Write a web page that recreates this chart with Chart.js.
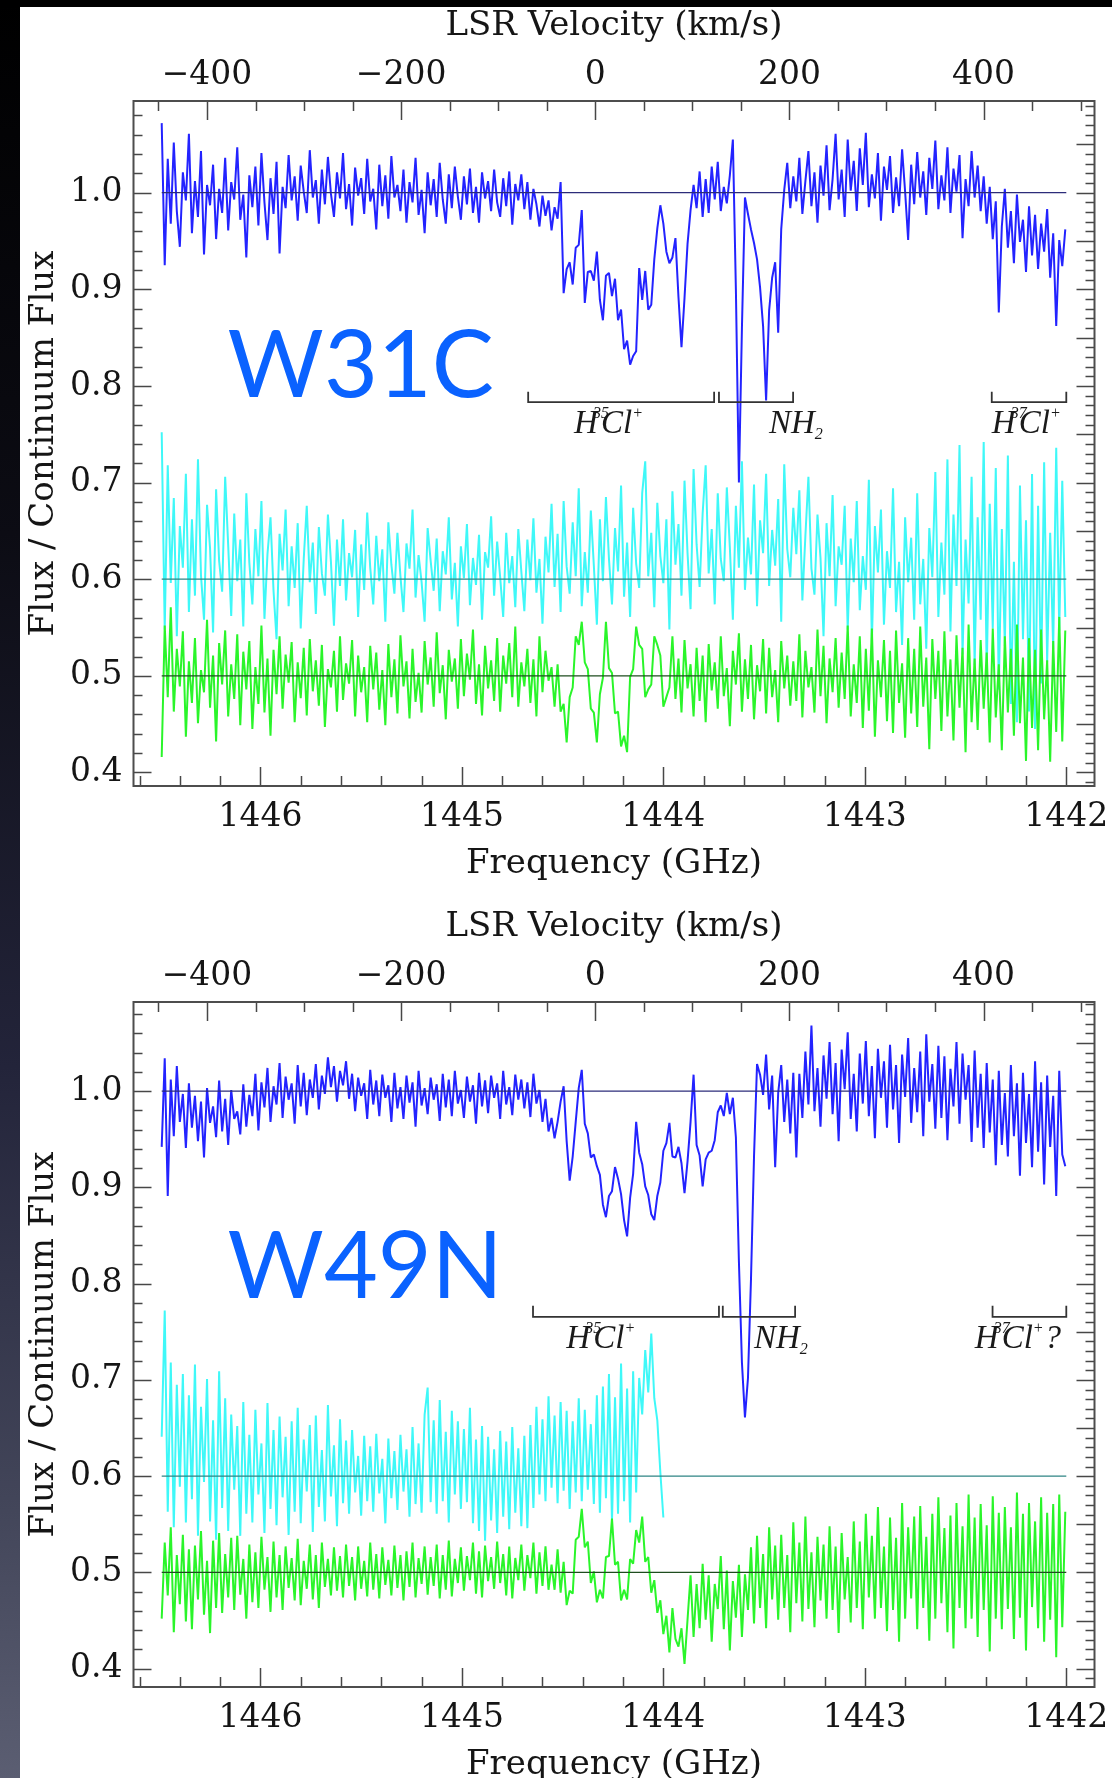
<!DOCTYPE html>
<html>
<head>
<meta charset="utf-8">
<script src="https://cdn.jsdelivr.net/npm/chart.js@4.4.1/dist/chart.umd.min.js"></script>
<style>
  html, body { margin: 0; padding: 0; background: #fff; width: 1112px; height: 1778px; overflow: hidden; position: relative; }
  canvas { position: absolute; left: 0; }
  #p1 { top: 0; }
  #p2 { top: 901px; }
  #strip { position: absolute; left: 0; top: 0; width: 20px; height: 1778px;
           background: linear-gradient(#000 0%, #0c0c14 30%, #23243a 60%, #43465a 85%, #5b5e72 100%); }
  #band { position: absolute; left: 0; top: 0; width: 1112px; height: 7px; background: #000; }
</style>
</head>
<body>
<canvas id="p1" width="1112" height="890"></canvas>
<canvas id="p2" width="1112" height="890"></canvas>
<div id="strip"></div>
<div id="band"></div>
<script>
// channel grid of the spectra (GHz)
const freqStart = 1446.49;
const chanWidth = 0.015;
const freqEnd = 1442.0;
// frequency of 0 km/s on the LSR velocity axis
const restFreq = 1444.338;

const freqTicks = [1442, 1443, 1444, 1445, 1446];
const velTicks = [-400, -200, 0, 200, 400];
const fluxTicks = [0.4, 0.5, 0.6, 0.7, 0.8, 0.9, 1.0];

// W31C
const w31cBlue = [
  1.072,0.925,1.035,0.968,1.052,0.981,0.944,1.021,0.992,1.061,
  0.958,1.012,0.975,1.043,0.936,1.008,0.987,1.029,0.952,1.004,
  0.979,1.036,0.961,1.011,0.993,1.047,0.972,0.998,0.933,1.018,
  0.985,1.027,0.966,1.041,0.99,0.951,1.015,0.978,1.032,0.937,
  1.006,0.984,1.039,0.992,1.017,0.971,1.028,1.001,0.979,1.044,
  0.995,1.013,0.968,1.024,0.988,1.037,0.999,0.975,1.021,0.994,
  1.041,0.983,1.009,0.966,1.026,0.997,1.015,0.978,1.035,0.991,
  1.004,0.962,1.029,0.986,1.018,0.973,1.038,0.995,1.008,0.981,
  1.024,0.969,1.011,0.99,1.036,0.977,1.003,0.958,1.021,0.987,
  1.014,0.975,1.031,0.993,0.968,1.019,0.984,1.027,0.996,0.972,
  1.017,0.988,1.025,0.979,1.006,0.969,1.021,0.994,1.012,0.981,
  1.024,0.99,0.975,1.015,0.986,1.022,0.967,1.009,0.992,1.019,
  0.983,1.011,0.972,1.004,0.988,0.965,0.997,0.976,0.992,0.961,
  0.985,0.973,1.011,0.896,0.921,0.928,0.905,0.943,0.946,0.982,
  0.886,0.918,0.919,0.909,0.939,0.889,0.868,0.914,0.917,0.893,
  0.911,0.868,0.879,0.838,0.847,0.822,0.831,0.836,0.922,0.889,
  0.919,0.879,0.884,0.931,0.963,0.987,0.968,0.939,0.927,0.933,
  0.953,0.892,0.84,0.891,0.947,0.982,1.008,0.984,1.022,0.975,
  1.014,0.979,1.027,0.993,1.032,0.981,1.006,0.989,1.018,1.055,
  0.9,0.70,0.86,0.995,0.978,0.962,0.948,0.931,0.902,0.862,
  0.785,0.878,0.912,0.928,0.855,0.962,1.003,1.031,0.984,1.017,
  0.991,1.036,0.978,1.012,1.043,0.986,1.021,0.969,1.028,0.997,
  1.049,0.982,1.014,1.061,0.993,1.024,0.975,1.055,1.002,1.033,
  0.981,1.046,1.008,1.062,0.985,1.019,0.994,1.041,0.971,1.027,
  1.003,1.038,0.979,1.016,0.986,1.045,1.001,0.951,1.029,0.988,
  1.042,0.995,1.022,0.977,1.036,1.004,1.054,0.983,1.018,0.992,
  1.047,0.979,1.025,1.001,1.039,0.953,1.014,0.986,1.043,0.995,
  1.028,0.981,1.017,0.968,1.006,0.952,0.991,0.876,0.965,1.004,
  0.943,0.981,0.927,0.998,0.949,0.972,0.918,0.986,0.935,0.977,
  0.921,0.968,0.939,0.983,0.912,0.958,0.862,0.951,0.924,0.962
];
const w31cCyan = [
  0.752,0.548,0.718,0.596,0.684,0.541,0.655,0.612,0.709,0.566,
  0.662,0.583,0.724,0.604,0.558,0.677,0.632,0.545,0.693,0.619,
  0.587,0.706,0.635,0.562,0.668,0.598,0.641,0.551,0.689,0.617,
  0.574,0.652,0.603,0.681,0.559,0.626,0.664,0.588,0.538,0.647,
  0.609,0.672,0.572,0.634,0.591,0.658,0.549,0.621,0.676,0.597,
  0.638,0.564,0.654,0.606,0.583,0.667,0.618,0.552,0.641,0.593,
  0.662,0.578,0.627,0.602,0.651,0.561,0.636,0.589,0.669,0.612,
  0.574,0.645,0.598,0.631,0.556,0.659,0.615,0.585,0.648,0.603,
  0.566,0.637,0.611,0.672,0.581,0.625,0.597,0.556,0.653,0.619,
  0.588,0.642,0.567,0.629,0.605,0.664,0.579,0.617,0.551,0.634,
  0.601,0.657,0.573,0.622,0.594,0.646,0.558,0.628,0.612,0.665,
  0.583,0.639,0.602,0.561,0.648,0.596,0.624,0.571,0.652,0.608,
  0.567,0.641,0.599,0.663,0.586,0.621,0.554,0.644,0.607,0.678,
  0.592,0.647,0.566,0.681,0.613,0.585,0.659,0.603,0.694,0.572,
  0.628,0.586,0.671,0.614,0.553,0.662,0.598,0.685,0.621,0.574,
  0.653,0.608,0.697,0.582,0.638,0.561,0.674,0.616,0.591,0.689,
  0.722,0.603,0.648,0.571,0.679,0.624,0.596,0.662,0.548,0.691,
  0.615,0.657,0.583,0.702,0.627,0.569,0.714,0.636,0.592,0.668,
  0.718,0.606,0.652,0.574,0.689,0.621,0.598,0.695,0.633,0.558,
  0.676,0.612,0.722,0.589,0.643,0.605,0.698,0.572,0.661,0.627,
  0.709,0.593,0.651,0.614,0.683,0.556,0.719,0.631,0.602,0.674,
  0.626,0.692,0.578,0.645,0.706,0.611,0.584,0.667,0.622,0.541,
  0.658,0.603,0.687,0.572,0.634,0.615,0.676,0.548,0.642,0.597,
  0.681,0.568,0.624,0.589,0.703,0.535,0.655,0.607,0.672,0.553,
  0.629,0.591,0.694,0.566,0.618,0.532,0.664,0.597,0.643,0.558,
  0.689,0.574,0.621,0.528,0.653,0.602,0.711,0.561,0.638,0.584,
  0.724,0.546,0.667,0.593,0.739,0.522,0.641,0.575,0.706,0.511,
  0.664,0.558,0.742,0.503,0.678,0.549,0.715,0.486,0.652,0.531,
  0.728,0.471,0.618,0.452,0.697,0.538,0.661,0.463,0.709,0.445,
  0.676,0.492,0.721,0.514,0.648,0.528,0.736,0.547,0.702,0.561
];
const w31cGreen = [
  0.416,0.552,0.478,0.571,0.463,0.528,0.489,0.546,0.437,0.515,
  0.472,0.539,0.451,0.506,0.483,0.558,0.467,0.521,0.432,0.534,
  0.491,0.547,0.458,0.512,0.476,0.543,0.449,0.525,0.486,0.536,
  0.445,0.509,0.471,0.552,0.462,0.518,0.438,0.527,0.481,0.541,
  0.466,0.522,0.493,0.535,0.452,0.514,0.477,0.529,0.459,0.538,
  0.484,0.516,0.469,0.532,0.447,0.507,0.488,0.526,0.463,0.541,
  0.475,0.513,0.492,0.537,0.458,0.521,0.483,0.509,0.452,0.531,
  0.486,0.524,0.465,0.506,0.449,0.533,0.478,0.517,0.461,0.542,
  0.489,0.515,0.456,0.528,0.473,0.503,0.462,0.536,0.491,0.519,
  0.468,0.545,0.482,0.511,0.455,0.527,0.494,0.518,0.466,0.538,
  0.479,0.523,0.496,0.548,0.471,0.512,0.459,0.531,0.487,0.516,
  0.474,0.539,0.463,0.521,0.492,0.534,0.478,0.551,0.468,0.514,
  0.489,0.528,0.472,0.517,0.458,0.541,0.483,0.526,0.495,0.509,
  0.468,0.512,0.463,0.471,0.431,0.478,0.488,0.541,0.532,0.556,
  0.514,0.507,0.466,0.462,0.431,0.481,0.498,0.556,0.508,0.503,
  0.461,0.463,0.427,0.438,0.421,0.499,0.507,0.551,0.532,0.528,
  0.478,0.486,0.491,0.541,0.532,0.521,0.468,0.478,0.488,0.541,
  0.476,0.518,0.462,0.537,0.487,0.512,0.458,0.529,0.474,0.521,
  0.452,0.533,0.485,0.514,0.466,0.541,0.479,0.508,0.448,0.526,
  0.491,0.544,0.463,0.517,0.476,0.532,0.455,0.511,0.484,0.538,
  0.461,0.529,0.478,0.506,0.452,0.536,0.487,0.521,0.469,0.515,
  0.474,0.543,0.457,0.526,0.488,0.509,0.462,0.548,0.479,0.531,
  0.451,0.518,0.483,0.539,0.467,0.524,0.476,0.552,0.458,0.512,
  0.472,0.541,0.446,0.528,0.464,0.549,0.437,0.516,0.478,0.537,
  0.453,0.526,0.441,0.547,0.472,0.513,0.436,0.539,0.461,0.528,
  0.447,0.551,0.468,0.519,0.424,0.538,0.476,0.526,0.443,0.546,
  0.458,0.517,0.433,0.542,0.467,0.529,0.421,0.553,0.452,0.518,
  0.444,0.537,0.466,0.524,0.431,0.549,0.457,0.512,0.423,0.541,
  0.462,0.528,0.438,0.553,0.451,0.519,0.412,0.539,0.446,0.527,
  0.423,0.548,0.455,0.516,0.411,0.536,0.442,0.561,0.432,0.547
];

// W49N
const w49nBlue = [
  0.942,1.034,0.891,1.012,0.953,1.026,0.968,0.997,0.941,1.008,
  0.962,0.995,0.948,0.989,0.931,1.003,0.967,0.984,0.952,1.011,
  0.958,0.992,0.944,1.001,0.971,0.979,0.955,1.007,0.963,0.996,
  0.974,1.018,0.959,1.009,0.983,1.024,0.968,1.005,0.986,1.029,
  0.972,1.015,0.991,1.008,0.966,1.027,0.984,1.019,0.975,1.012,
  0.993,1.028,0.981,1.016,0.997,1.035,1.004,1.026,0.989,1.021,
  1.006,1.031,0.992,1.018,0.979,1.014,0.995,1.008,0.971,1.022,
  0.986,1.011,0.974,1.017,0.993,1.006,0.968,1.019,0.982,1.004,
  0.971,1.016,0.988,1.009,0.963,1.021,0.985,1.003,0.976,1.014,
  0.991,1.007,0.969,1.018,0.983,1.012,0.974,1.021,0.987,1.001,
  0.972,1.015,0.989,1.006,0.966,1.019,0.984,1.011,0.977,1.016,
  0.993,1.008,0.971,1.021,0.986,1.004,0.975,1.017,0.991,1.012,
  0.982,1.009,0.973,1.018,0.987,1.001,0.968,0.992,0.958,0.972,
  0.951,0.968,0.989,1.005,0.948,0.907,0.932,0.968,1.003,1.022,
  0.966,0.956,0.931,0.934,0.922,0.913,0.882,0.869,0.891,0.896,
  0.921,0.909,0.893,0.866,0.849,0.889,0.914,0.968,0.936,0.924,
  0.901,0.892,0.872,0.866,0.891,0.905,0.938,0.946,0.967,0.932,
  0.931,0.942,0.925,0.894,0.927,0.968,1.017,0.944,0.933,0.901,
  0.929,0.936,0.938,0.949,0.978,0.985,0.974,0.998,0.976,0.993,
  0.952,0.823,0.718,0.661,0.702,0.805,0.932,1.028,1.017,0.996,
  1.038,0.981,1.016,0.921,0.998,1.027,0.968,1.012,0.956,1.019,
  0.931,1.018,0.972,1.041,0.986,1.068,0.979,1.024,0.963,1.037,
  0.992,1.051,0.976,1.029,0.948,1.043,1.002,1.061,0.971,1.018,
  0.958,1.039,0.987,1.052,0.974,1.026,0.951,1.044,0.993,1.031,
  0.962,1.048,0.981,1.027,0.946,1.038,0.994,1.055,0.967,1.024,
  0.978,1.041,0.953,1.059,0.989,1.028,0.961,1.047,0.972,1.036,
  0.949,1.023,0.984,1.051,0.966,1.039,0.991,1.027,0.947,1.042,
  0.962,1.018,0.941,1.029,0.957,1.012,0.923,1.021,0.944,0.998,
  0.932,1.027,0.953,1.008,0.912,1.019,0.946,0.997,0.921,1.031,
  0.937,1.009,0.903,1.016,0.942,0.995,0.891,1.021,0.934,0.922
];
const w49nCyan = [
  0.641,0.772,0.563,0.718,0.547,0.695,0.589,0.706,0.552,0.684,
  0.576,0.716,0.538,0.672,0.594,0.701,0.553,0.658,0.534,0.709,
  0.567,0.681,0.543,0.664,0.586,0.652,0.538,0.677,0.561,0.643,
  0.552,0.669,0.581,0.634,0.541,0.676,0.566,0.648,0.549,0.662,
  0.578,0.641,0.539,0.657,0.563,0.671,0.551,0.638,0.584,0.653,
  0.542,0.663,0.568,0.627,0.553,0.674,0.579,0.632,0.548,0.659,
  0.572,0.637,0.561,0.648,0.583,0.621,0.559,0.642,0.574,0.631,
  0.563,0.644,0.582,0.618,0.551,0.639,0.577,0.626,0.565,0.643,
  0.584,0.628,0.558,0.651,0.571,0.634,0.562,0.664,0.692,0.573,
  0.658,0.561,0.679,0.574,0.646,0.552,0.668,0.581,0.657,0.566,
  0.649,0.573,0.671,0.551,0.638,0.543,0.652,0.533,0.641,0.554,
  0.628,0.541,0.647,0.558,0.636,0.545,0.651,0.562,0.629,0.548,
  0.642,0.546,0.653,0.567,0.672,0.581,0.659,0.574,0.683,0.588,
  0.663,0.572,0.677,0.585,0.668,0.566,0.657,0.583,0.681,0.574,
  0.669,0.586,0.654,0.571,0.684,0.562,0.693,0.577,0.706,0.553,
  0.682,0.561,0.717,0.574,0.691,0.552,0.709,0.583,0.702,0.664,
  0.731,0.687,0.748,0.681,0.658,0.604,0.557
];
const w49nGreen = [
  0.452,0.531,0.476,0.547,0.438,0.518,0.467,0.539,0.449,0.524,
  0.441,0.528,0.472,0.543,0.456,0.512,0.437,0.533,0.463,0.541,
  0.458,0.519,0.474,0.536,0.461,0.538,0.477,0.514,0.452,0.529,
  0.469,0.521,0.463,0.537,0.482,0.516,0.459,0.532,0.474,0.518,
  0.461,0.527,0.484,0.515,0.471,0.535,0.466,0.512,0.483,0.529,
  0.472,0.518,0.463,0.531,0.485,0.514,0.476,0.526,0.481,0.517,
  0.474,0.529,0.486,0.516,0.471,0.527,0.483,0.512,0.475,0.531,
  0.482,0.519,0.473,0.526,0.487,0.513,0.476,0.528,0.484,0.518,
  0.471,0.522,0.485,0.531,0.474,0.515,0.488,0.527,0.477,0.516,
  0.486,0.529,0.473,0.518,0.482,0.533,0.475,0.514,0.489,0.526,
  0.481,0.517,0.492,0.531,0.478,0.522,0.474,0.528,0.491,0.516,
  0.483,0.532,0.489,0.519,0.476,0.527,0.473,0.515,0.492,0.529,
  0.481,0.518,0.494,0.531,0.478,0.521,0.486,0.527,0.482,0.508,
  0.482,0.524,0.479,0.511,0.466,0.481,0.478,0.534,0.537,0.566,
  0.526,0.532,0.489,0.501,0.469,0.482,0.473,0.516,0.517,0.556,
  0.508,0.511,0.471,0.482,0.472,0.514,0.509,0.544,0.531,0.558,
  0.511,0.516,0.479,0.492,0.458,0.471,0.436,0.455,0.417,0.463,
  0.431,0.423,0.442,0.405,0.451,0.497,0.433,0.488,0.442,0.509,
  0.451,0.497,0.428,0.488,0.462,0.517,0.441,0.502,0.419,0.491,
  0.453,0.508,0.433,0.498,0.461,0.526,0.447,0.538,0.463,0.519,
  0.442,0.547,0.472,0.528,0.451,0.539,0.463,0.518,0.438,0.552,
  0.468,0.531,0.449,0.558,0.462,0.521,0.443,0.537,0.471,0.529,
  0.452,0.548,0.461,0.527,0.437,0.541,0.472,0.516,0.448,0.553,
  0.463,0.532,0.441,0.561,0.474,0.538,0.452,0.568,0.463,0.527,
  0.439,0.557,0.461,0.536,0.428,0.572,0.452,0.547,0.473,0.558,
  0.441,0.569,0.463,0.537,0.429,0.561,0.452,0.578,0.468,0.546,
  0.438,0.559,0.421,0.572,0.463,0.548,0.442,0.581,0.452,0.557,
  0.433,0.571,0.461,0.549,0.418,0.579,0.452,0.562,0.441,0.568,
  0.462,0.547,0.431,0.583,0.453,0.561,0.419,0.572,0.464,0.553,
  0.442,0.578,0.428,0.562,0.451,0.571,0.412,0.581,0.443,0.563
];

// line identifications: [from GHz, to GHz]
const w31cBrackets = [[1444.671, 1443.748], [1443.724, 1443.356], [1442.370, 1442.0]];
const w49nBrackets = [[1444.647, 1443.724], [1443.705, 1443.346], [1442.366, 1442.0]];

const serif = '"DejaVu Serif", serif';
const ink = '#151515';

function toPoints(vals) {
  return vals.map((v, i) => ({ x: freqStart - i * chanWidth, y: v }));
}

function spectrum(vals, color, order) {
  return { data: toPoints(vals), borderColor: color, borderWidth: 2, borderJoinStyle: 'bevel',
           pointRadius: 0, tension: 0, order: order, xAxisID: 'x', yAxisID: 'y' };
}

function baseline(y, color) {
  return { data: [{ x: freqStart, y: y }, { x: freqEnd, y: y }], borderColor: color,
           borderWidth: 1.3, pointRadius: 0, order: 0, xAxisID: 'x', yAxisID: 'y' };
}

function bracket(pair, base, top) {
  return { data: [{ x: pair[0], y: top }, { x: pair[0], y: base }, { x: pair[1], y: base }, { x: pair[1], y: top }],
           borderColor: '#333', borderWidth: 1.8, pointRadius: 0, order: 0, xAxisID: 'x', yAxisID: 'y' };
}

function frameTicks(ctx, scale, side, a, step, every, major, minor) {
  const lo = Math.min(scale.min, scale.max), hi = Math.max(scale.min, scale.max);
  for (let k = Math.ceil(lo / step - 1e-6); k <= Math.floor(hi / step + 1e-6); k++) {
    const p = Math.round(scale.getPixelForValue(k * step)) + 0.5;
    const len = k % every === 0 ? major : minor;
    ctx.beginPath();
    if (side === 'bottom') { ctx.moveTo(p, a.bottom); ctx.lineTo(p, a.bottom - len); }
    else if (side === 'top') { ctx.moveTo(p, a.top); ctx.lineTo(p, a.top + len); }
    else if (side === 'left') { ctx.moveTo(a.left, p); ctx.lineTo(a.left + len, p); }
    else { ctx.moveTo(a.right, p); ctx.lineTo(a.right - len, p); }
    ctx.stroke();
  }
}

function chem(ctx, x, y, parts) {
  let cx = x;
  for (const p of parts) {
    const small = p.k === 'sup' || p.k === 'sub';
    ctx.font = 'italic ' + (small ? 16 : 33) + 'px "Liberation Serif", serif';
    const px = p.x !== undefined ? x + p.x : cx;
    const py = y + (p.k === 'sup' ? -15 : p.k === 'sub' ? 6 : 0);
    ctx.fillText(p.t, px, py);
    cx = px + ctx.measureText(p.t).width + (small ? 1 : 0);
  }
}

const deco = {
  id: 'deco',
  afterDatasetsDraw(chart, args, opts) {
    const { ctx, chartArea: a, scales } = chart;
    ctx.save();
    ctx.strokeStyle = '#474747';
    ctx.lineWidth = 1.5;
    frameTicks(ctx, scales.x, 'bottom', a, 0.2, 5, 19, 10);
    frameTicks(ctx, scales.x2, 'top', a, 50, 4, 19, 10);
    frameTicks(ctx, scales.y, 'left', a, 0.02, 5, 18, 9);
    frameTicks(ctx, scales.y, 'right', a, 0.01, 5, 18, 9);
    ctx.lineWidth = 2;
    ctx.strokeStyle = '#4d4d4d';
    ctx.strokeRect(a.left, a.top, a.right - a.left, a.bottom - a.top);

    ctx.fillStyle = '#1a1a1a';
    ctx.textBaseline = 'alphabetic';
    ctx.textAlign = 'left';
    for (const lb of opts.labels) {
      chem(ctx, scales.x.getPixelForValue(lb.f), scales.y.getPixelForValue(opts.labelY), lb.parts);
    }

    ctx.fillStyle = '#0a62ff';
    ctx.font = '93px Lato, sans-serif';
    ctx.fillText(opts.name, scales.x.getPixelForValue(opts.nameAt[0]), scales.y.getPixelForValue(opts.nameAt[1]));
    ctx.restore();
  }
};

function makePanel(id, p) {
  const datasets = [
    baseline(1.0, '#2c2c7a'),
    baseline(0.6, '#2e8484'),
    baseline(0.5, '#1f4d1f'),
    ...p.brackets.map(b => bracket(b, p.bracketBase, p.bracketTop)),
    spectrum(p.green, '#2af52a', 1),
    spectrum(p.cyan, '#3ff8f8', 2),
    spectrum(p.blue, '#2323ff', 3)
  ];
  const kms = 299792.458 / restFreq;
  const tickFont = { family: serif, size: 33 };
  const titleFont = { family: serif, size: 34 };
  return new Chart(document.getElementById(id).getContext('2d'), {
    type: 'line',
    data: { datasets: datasets },
    options: {
      responsive: false,
      animation: false,
      devicePixelRatio: 1,
      events: [],
      layout: { padding: 0 },
      plugins: {
        legend: { display: false },
        tooltip: { enabled: false },
        deco: { labels: p.labels, labelY: p.labelY, name: p.name, nameAt: p.nameAt }
      },
      scales: {
        x: {
          type: 'linear', position: 'bottom', reverse: true, min: 1441.86, max: 1446.63,
          afterBuildTicks: s => { s.ticks = freqTicks.map(v => ({ value: v })); },
          afterFit: s => { s.height = 104; },
          grid: { display: false, drawTicks: false }, border: { display: false },
          ticks: { padding: 12, autoSkip: false, maxRotation: 0, color: ink,
                   font: tickFont, callback: v => String(v) },
          title: { display: true, text: 'Frequency (GHz)', color: ink,
                   font: titleFont, padding: { top: 0, bottom: 5 } }
        },
        x2: {
          type: 'linear', position: 'top',
          min: (restFreq - 1446.63) * kms, max: (restFreq - 1441.86) * kms,
          afterBuildTicks: s => { s.ticks = velTicks.map(v => ({ value: v })); },
          afterFit: s => { s.height = 101; },
          grid: { display: false, drawTicks: false }, border: { display: false },
          ticks: { padding: 6, autoSkip: false, maxRotation: 0, color: ink,
                   font: tickFont, callback: v => (v < 0 ? '\u2212' : '') + Math.abs(v) },
          title: { display: true, text: 'LSR Velocity (km/s)', color: ink,
                   font: titleFont, padding: { top: 6, bottom: 0 } }
        },
        y: {
          position: 'left', min: p.yMin, max: p.yMax,
          afterBuildTicks: s => { s.ticks = fluxTicks.map(v => ({ value: v })); },
          afterFit: s => { s.width = 133.5; },
          grid: { display: false, drawTicks: false }, border: { display: false },
          ticks: { padding: 11, autoSkip: false, color: ink,
                   font: tickFont, callback: v => v.toFixed(1) },
          title: { display: true, text: 'Flux / Continuum Flux', color: ink,
                   font: titleFont, padding: { top: 24, bottom: 0 } }
        },
        y2: {
          position: 'right', min: p.yMin, max: p.yMax,
          afterFit: s => { s.width = 17.5; },
          grid: { display: false, drawTicks: false }, border: { display: false },
          ticks: { display: false }
        }
      }
    },
    plugins: [deco]
  });
}

const h35 = [{ t: 'H' }, { t: '35', k: 'sup', x: 19 }, { t: 'Cl', x: 27 }, { t: '+', k: 'sup' }];
const h37 = [{ t: 'H' }, { t: '37', k: 'sup', x: 19 }, { t: 'Cl', x: 27 }, { t: '+', k: 'sup' }];
const nh2 = [{ t: 'NH' }, { t: '2', k: 'sub' }];

makePanel('p1', {
  name: 'W31C', nameAt: [1446.163, 0.7885],
  yMin: 0.386, yMax: 1.0949,
  blue: w31cBlue, cyan: w31cCyan, green: w31cGreen,
  brackets: w31cBrackets, bracketBase: 0.7833, bracketTop: 0.794,
  labelY: 0.7512,
  labels: [{ f: 1444.443, parts: h35 }, { f: 1443.476, parts: nh2 }, { f: 1442.370, parts: h37 }]
});

makePanel('p2', {
  name: 'W49N', nameAt: [1446.163, 0.7848],
  yMin: 0.381, yMax: 1.0925,
  blue: w49nBlue, cyan: w49nCyan, green: w49nGreen,
  brackets: w49nBrackets, bracketBase: 0.7654, bracketTop: 0.777,
  labelY: 0.7328,
  labels: [{ f: 1444.482, parts: h35 }, { f: 1443.550, parts: nh2 },
           { f: 1442.455, parts: h37.concat([{ t: '?' }]) }]
});
</script>
</body>
</html>
